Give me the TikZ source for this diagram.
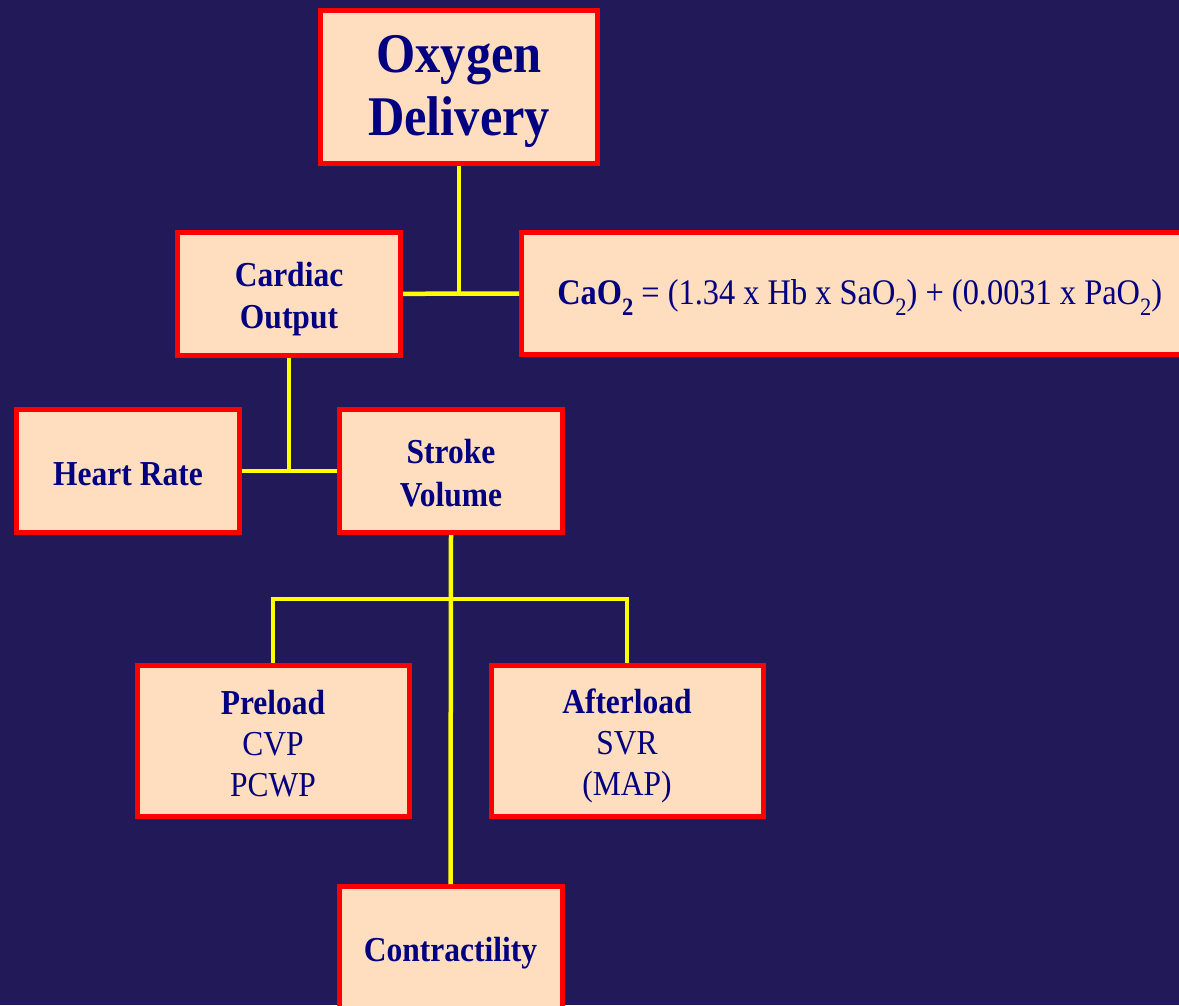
\documentclass[tikz,border=0pt]{standalone}
\usepackage{fontspec}
\setmainfont{Liberation Serif}[FakeStretch=0.9]
\definecolor{bgc}{RGB}{34,25,89}
\definecolor{boxfill}{RGB}{255,222,192}
\definecolor{boxline}{RGB}{255,0,0}
\definecolor{txt}{RGB}{0,0,128}
\definecolor{conn}{RGB}{255,255,0}
\newcommand\subtwo[1]{\raisebox{-0.28em}{\fontsize{25}{25}\selectfont #1}}
\newcommand\st{\rule[-6pt]{0pt}{40pt}}
\newcommand\bigst{\rule[-10pt]{0pt}{58pt}}
\begin{document}
\begin{tikzpicture}[x=1pt,y=-1pt,
  box/.style={draw=boxline, fill=boxfill, line width=5pt, inner sep=0pt,
    align=center, text=txt, font=\fontsize{35}{42}\selectfont\bfseries},
  smallbox/.style={box, minimum width=223pt, minimum height=123pt},
  loadbox/.style={box, minimum width=272pt, minimum height=151pt,
    font=\fontsize{35}{41}\selectfont\bfseries},
  link/.style={draw=conn, line width=4.5pt}]
\clip (0,0) rectangle (1179,1005);
\fill[bgc] (0,0) rectangle (1179,1005);
% nodes
\node[box, minimum width=277pt, minimum height=153pt,
  font=\fontsize{56}{63}\selectfont\bfseries] (od) at (459,86.5) {\bigst Oxygen\\Delivery\bigst};
\node[smallbox] (co) at (289,293.8) {\st Cardiac\\Output\st};
\node[box, minimum width=676pt, minimum height=122pt,
  font=\fontsize{36}{42}\selectfont] (cao) at (859.7,293.5)
  {\rule[-8pt]{0pt}{41pt}\textbf{CaO\subtwo{2}} = (1.34 x Hb x SaO\subtwo{2}) + (0.0031 x PaO\subtwo{2})};
\node[smallbox] (hr) at (128,471) {\st Heart Rate};
\node[smallbox, font=\fontsize{35}{43}\selectfont\bfseries] (sv) at (451,471) {\st Stroke\\Volume\st};
\node[loadbox] (pre) at (273,741) {\st Preload\\\mdseries CVP\\\mdseries PCWP\st};
\node[loadbox] (aft) at (627,741) {\st Afterload\\\mdseries SVR\\\mdseries (MAP)\st};
\node[smallbox] (ct) at (450.5,948) {\st Contractility};
\coordinate (bus) at (450.5,599);
% connectors
\draw[link] (co.east) -- (cao.west);
\draw[link] (od.south) -- (od.south |- co.east);
\draw[link] (hr.east) -- (sv.west);
\draw[link] (co.south) -- (co.south |- hr.east);
\draw[link] (sv.south) -- (ct.north);
\draw[link] (pre.north) -- (pre.north |- bus) -- (aft.north |- bus) -- (aft.north);
\end{tikzpicture}
\end{document}
